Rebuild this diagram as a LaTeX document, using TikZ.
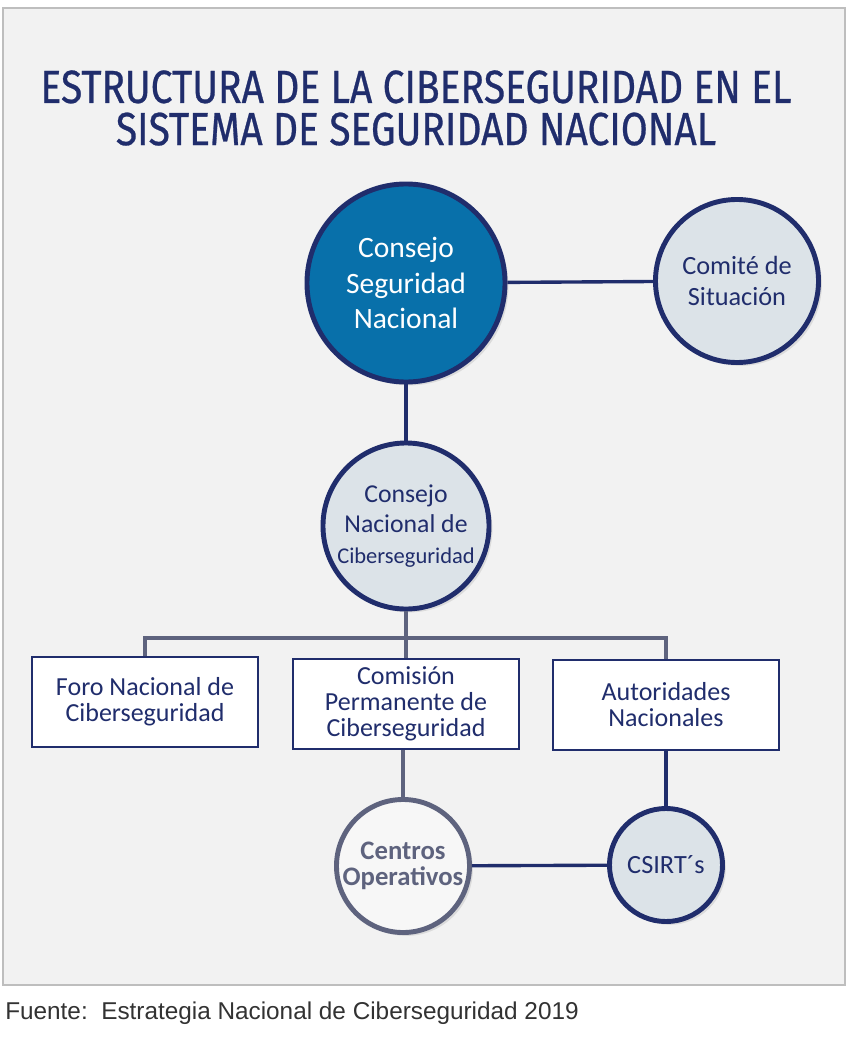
\documentclass[tikz,border=0pt]{standalone}
\usepackage{fontspec}
\setmainfont{Carlito}
\newfontfamily\titlefont[FakeStretch=0.84, FakeBold=0.6]{Fira Sans}
\newfontfamily\notefont{Liberation Sans}
\usetikzlibrary{positioning, shadows}
\definecolor{navy}{RGB}{32,45,108}
\definecolor{csnblue}{RGB}{8,112,170}
\definecolor{paleblue}{RGB}{220,227,232}
\definecolor{slate}{RGB}{94,99,126}
\definecolor{panel}{RGB}{242,242,242}
\definecolor{panelline}{RGB}{190,190,190}
\definecolor{notegray}{RGB}{50,50,50}

\begin{document}
\begin{tikzpicture}
	[%
	x=0.025cm, y=-0.025cm,%
	council/.style ={circle,	draw=navy,	fill=csnblue,	line width=3.5pt,	inner sep=0pt,	text=white,	align=center,	drop shadow={opacity=0.2}},%
	organ/.style   ={circle,	draw=navy,	fill=paleblue,	line width=3.5pt,	inner sep=0pt,	text=navy,	align=center,	drop shadow={opacity=0.2}},%
	centre/.style  ={circle,	draw=slate,	fill=panel!60!white,	line width=3.5pt,	inner sep=0pt,	text=slate,	align=center,	drop shadow={opacity=0.2}},%
	board/.style   ={rectangle,	draw=navy,	fill=white,	line width=1pt,	inner sep=0pt,	text=navy,	align=center,	minimum width=5.65cm,	minimum height=2.25cm},%
	link/.style    ={draw=navy,	line width=2.4pt},%
	branch/.style  ={draw=slate,	line width=2.4pt},%
	]

	\newcommand{\xleft}{145}
	\newcommand{\xmid}{406}
	\newcommand{\xright}{666}

	% panel
	\useasboundingbox (0,0) rectangle (850,1037);
	\fill [white] (0,0) rectangle (850,1037);
	\draw [fill=panel, draw=panelline, line width=0.8pt] (3,8) rectangle (845,985);

	% title and source
	\node (title) at (416,108) [text=navy, align=center, font=\titlefont\fontsize{33}{30}\selectfont]
		{ESTRUCTURA DE LA CIBERSEGURIDAD EN EL\\SISTEMA DE SEGURIDAD NACIONAL};
	\node (source) at (5,1019) [anchor=base west, inner sep=0pt, text=notegray, font=\notefont\fontsize{17.3}{21}\selectfont]
		{Fuente:\ \ Estrategia Nacional de Ciberseguridad 2019};

	% nodes
	\node (csn)    at (\xmid,283) [council, minimum size=4.95cm, font=\fontsize{21}{25}\selectfont] {Consejo\\Seguridad\\Nacional};
	\node (comite) at (737,281)   [organ, minimum size=4.075cm, font=\fontsize{18.7}{21.5}\selectfont] {Comité de\\Situación};
	\node (cnc)    at (\xmid,526) [organ, minimum size=4.15cm, font=\fontsize{18.3}{21.5}\selectfont] {Consejo\\Nacional de\\{\fontsize{16}{21.5}\selectfont Ciberseguridad}};

	\node (foro)        at (\xleft,702)  [board, font=\fontsize{18.5}{18.5}\selectfont] {Foro Nacional de\\Ciberseguridad};
	\node (comision)    at (\xmid,704)   [board, font=\fontsize{18.5}{18.5}\selectfont] {Comisión\\Permanente de\\Ciberseguridad};
	\node (autoridades) at (\xright,705) [board, font=\fontsize{18.5}{18.5}\selectfont] {Autoridades\\Nacionales};

	\node (centros) at (403,866)     [centre, minimum size=3.325cm, font=\bfseries\fontsize{19}{18.5}\selectfont] {Centros\\Operativos};
	\node (csirt)   at (\xright,865) [organ, minimum size=2.825cm, font=\fontsize{18.7}{20}\selectfont] {CSIRT´s};

	% interconnections
	\coordinate (split) at (\xmid,638);
	\draw [link] (csn) -- (comite);
	\draw [link] (csn) -- (cnc);
	\draw [branch] (cnc) -- (split);
	\draw [branch] (split) -| (foro);
	\draw [branch] (split) -| (autoridades);
	\draw [branch] (split) -- (comision);
	\draw [branch] (centros.north) -- (centros.north |- comision.south);
	\draw [link] (autoridades) -- (csirt);
	\draw [link] (centros) -- (csirt);

\end{tikzpicture}
\end{document}
